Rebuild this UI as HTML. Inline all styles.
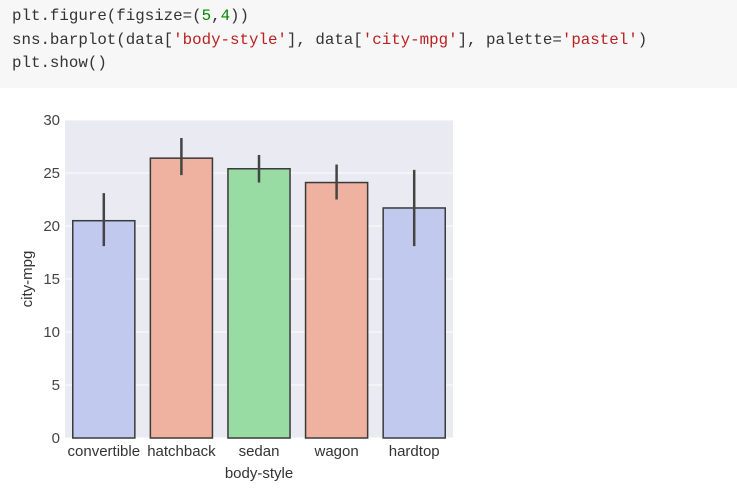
<!DOCTYPE html>
<html><head><meta charset="utf-8"><style>
body{margin:0;width:737px;height:490px;background:#fff;overflow:hidden;font-family:"Liberation Sans",sans-serif}
#code{position:absolute;left:0;top:0;width:737px;height:88px;background:#f7f7f7;}
#code pre{margin:0;position:absolute;left:12px;top:5px;font-family:"Liberation Mono",monospace;font-size:15.8px;line-height:23.5px;color:#333}
.s{color:#ba2121}.n{color:#080}
</style></head><body>
<div id="code"><pre>plt.figure(figsize=(<span class="n">5</span>,<span class="n">4</span>))
sns.barplot(data[<span class="s">'body-style'</span>], data[<span class="s">'city-mpg'</span>], palette=<span class="s">'pastel'</span>)
plt.show()</pre></div>
<svg id="chart" width="737" height="490" style="position:absolute;left:0;top:0"></svg>
<script>
const categories=['convertible','hatchback','sedan','wagon','hardtop'];
const values=[20.5,26.4,25.4,24.1,21.7];
const errLow=[18.1,24.8,24.1,22.5,18.1];
const errHigh=[23.1,28.3,26.7,25.8,25.3];
const colors=['#c2c9ef','#f0b2a0','#98dba3','#f0b2a0','#c2c9ef'];
const yTicks=[0,5,10,15,20,25,30];
const NS='http://www.w3.org/2000/svg';
const svg=document.getElementById('chart');
const L=65,R=453,T=120,B=438,ymax=30;
const y=v=>B-(v/ymax)*(B-T);
const slot=(R-L)/categories.length;
const x=i=>L+slot*i+slot*0.1;
function mk(t,a){const e=document.createElementNS(NS,t);for(const k in a)e.setAttribute(k,a[k]);svg.appendChild(e);return e;}
let e=mk('rect',{x:L,y:T,width:R-L,height:B-T,fill:'#eaeaf2'});


yTicks.forEach(t=>{
  let g=mk('line',{x1:L,x2:R,y1:y(t),y2:y(t),stroke:'#fff','stroke-width':1});
  
  
  let l=mk('text',{x:L-5,y:y(t)+5,'text-anchor':'end','font-size':15,fill:'#444'});
  l.textContent=t;
  
  
});
categories.forEach((c,i)=>{
  const w=slot*0.8;
  let b=mk('rect',{x:x(i),y:y(values[i]),width:w,height:B-y(values[i]),fill:colors[i],stroke:'#3a3a3a','stroke-width':1.5});
  
  
  const cx=x(i)+w/2;
  let er=mk('line',{x1:cx,x2:cx,y1:y(errLow[i]),y2:y(errHigh[i]),stroke:'#444','stroke-width':2.5});
  
  
  let t=mk('text',{x:cx,y:B+18,'text-anchor':'middle','font-size':15,fill:'#333'});
  t.textContent=c;
  
  
});
let xt=mk('text',{x:(L+R)/2,y:478,'text-anchor':'middle','font-size':15,fill:'#333'});
xt.textContent='body-style';


let yt=mk('text',{x:0,y:0,'text-anchor':'middle','font-size':15,fill:'#333',transform:'translate(32,279) rotate(-90)'});
yt.textContent='city-mpg';


</script>
</body></html>
